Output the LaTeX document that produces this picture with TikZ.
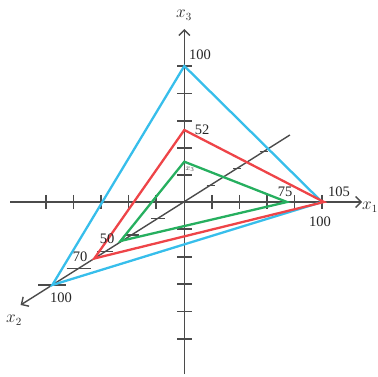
\documentclass[tikz,border=0pt]{standalone}
\usepackage{fontspec}
\setmainfont{Liberation Serif}
\usetikzlibrary{arrows.meta}
\definecolor{axisgray}{RGB}{75,75,75}
\definecolor{cblue}{RGB}{55,190,235}
\definecolor{cred}{RGB}{238,68,72}
\definecolor{cgreen}{RGB}{38,175,95}
\begin{document}
\begin{tikzpicture}[x=1pt,y=-1pt,
  axis/.style={draw=axisgray,line width=1.4pt},
  tickmark/.style={draw=axisgray,line width=1.2pt},
  backtick/.style={draw=axisgray,line width=0.9pt},
  tri/.style={line width=2.3pt,line join=miter},
  lab/.style={font=\fontsize{14.5}{15}\selectfont,inner sep=0pt,text=black!85},
  axlab/.style={font=\fontsize{16}{16}\selectfont,inner sep=0pt,text=black!85},
  smalllab/.style={font=\fontsize{8.5}{8.5}\selectfont,inner sep=0pt,text=black!75},
  arr/.style={-{Straight Barb[length=5.5pt,width=11pt,line width=1.4pt]}}]
\useasboundingbox (0,0) rectangle (378,377);
% axis end points
\coordinate (O) at (184.3,201.7);
\coordinate (x1s) at (10,202);
\coordinate (x1e) at (362,202);
\coordinate (x3s) at (184.3,374);
\coordinate (x3e) at (184.3,29);
\coordinate (x2s) at (289.9,135);
\coordinate (x2e) at (20.6,305);
% axes
\draw[axis,arr] (x1s) -- (x1e);
\draw[axis,arr] (x3s) -- (x3e);
\draw[axis,arr] (x2s) -- (x2e);
% ticks on x1
\foreach \x in {46,73.5,101,128.5,156,212,239.5,267,294.5,322}
  \draw[tickmark] (\x,195) -- (\x,209);
% ticks on x3
\foreach \y in {66,93.5,121,148,175,229,257,284,311.5,339}
  \draw[tickmark] (177,\y) -- (192,\y);
% ticks on x2
\foreach \k/\w in {20/7,40/7,60/8,80/12,100/14}
  \draw[tickmark] ({184.3-1.32*\k-\w},{201.7+0.833*\k}) -- ({184.3-1.32*\k+\w},{201.7+0.833*\k});
\foreach \k in {-20,-40,-60}
  \draw[backtick] ({184.3-1.32*\k-4},{201.7+0.833*\k}) -- ({184.3-1.32*\k+4},{201.7+0.833*\k});
% triangle vertices
\coordinate (B1) at (322,202);
\coordinate (B2) at (52.3,285);
\coordinate (B3) at (184.3,66);
\coordinate (R1) at (324,202);
\coordinate (R2) at (94.3,258.5);
\coordinate (R3) at (184.3,130);
\coordinate (G1) at (287,202);
\coordinate (G2) at (120.5,241);
\coordinate (G3) at (184.3,161.7);
\draw[tri,cblue] (B1) -- (B3) -- (B2) -- cycle;
\draw[tri,cred] (R1) -- (R3) -- (R2) -- cycle;
\draw[tri,cgreen] (G1) -- (G3) -- (G2) -- cycle;
% axis labels
\node[axlab] (lx3) at (184,15) {$x_3$};
\node[axlab] (lx1) at (370,207) {$x_1$};
\node[axlab] (lx2) at (14,320) {$x_2$};
\node[smalllab] (lx3s) at (190,169) {$x_3$};
% value labels
\node[lab] (l100a) at (200,55) {100};
\node[lab] (l52) at (202,130) {52};
\node[lab] (l75) at (285,192) {75};
\node[lab] (l105) at (339,192) {105};
\node[lab] (l100b) at (320,222) {100};
\node[lab] (l50) at (107,239) {50};
\node[lab] (l70) at (80,257) {70};
\node[lab] (l100c) at (61,298) {100};
\end{tikzpicture}
\end{document}
